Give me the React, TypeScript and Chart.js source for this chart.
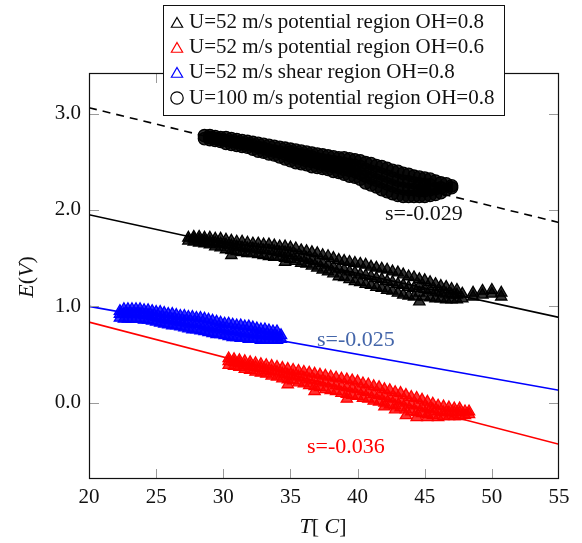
import { useEffect, useRef } from "react";
import { Chart, registerables } from "chart.js";

Chart.register(...registerables);

// ---- tick labels / ranges ----
const xTicks = [20, 25, 30, 35, 40, 45, 50, 55];
const yTicks = [0, 1, 2, 3];

// ---- legend labels ----
const seriesLabels = [
  "U=52 m/s potential region OH=0.8",
  "U=52 m/s potential region OH=0.6",
  "U=52 m/s shear region OH=0.8",
  "U=100 m/s potential region OH=0.8",
];

// ---- measured points: each row is [T, E, E, ...] (readings at that temperature) ----
const pot52oh08: number[][] = [
  [27.4, 1.68, 1.71], [27.8, 1.67, 1.70, 1.72], [28.2, 1.66, 1.69, 1.72], [28.6, 1.65, 1.68, 1.71],
  [29.0, 1.64, 1.67, 1.71], [29.4, 1.62, 1.66, 1.70], [29.8, 1.61, 1.65, 1.70], [30.2, 1.59, 1.64, 1.69],
  [30.6, 1.53, 1.58, 1.63, 1.68], [31.0, 1.57, 1.62, 1.67], [31.4, 1.56, 1.61, 1.67], [31.8, 1.55, 1.60, 1.66],
  [32.2, 1.55, 1.60, 1.65], [32.6, 1.54, 1.59, 1.65], [33.0, 1.53, 1.58, 1.64], [33.4, 1.52, 1.58, 1.64],
  [33.8, 1.51, 1.57, 1.63], [34.2, 1.51, 1.56, 1.62], [34.6, 1.46, 1.50, 1.56, 1.62], [35.0, 1.49, 1.55, 1.61],
  [35.4, 1.47, 1.53, 1.60], [35.8, 1.45, 1.51, 1.58], [36.2, 1.44, 1.50, 1.57], [36.6, 1.42, 1.48, 1.56],
  [37.0, 1.40, 1.47, 1.55], [37.4, 1.38, 1.45, 1.53], [37.8, 1.36, 1.43, 1.52], [38.2, 1.34, 1.41, 1.50],
  [38.6, 1.31, 1.39, 1.48], [39.0, 1.30, 1.38, 1.47], [39.4, 1.28, 1.36, 1.46], [39.8, 1.26, 1.35, 1.45],
  [40.2, 1.25, 1.33, 1.44], [40.6, 1.23, 1.32, 1.43], [41.0, 1.22, 1.31, 1.41], [41.4, 1.20, 1.29, 1.40],
  [41.8, 1.19, 1.28, 1.39], [42.2, 1.17, 1.26, 1.38], [42.6, 1.16, 1.25, 1.36], [43.0, 1.14, 1.23, 1.35],
  [43.4, 1.12, 1.22, 1.33], [43.8, 1.11, 1.20, 1.31], [44.2, 1.10, 1.19, 1.30], [44.6, 1.05, 1.14, 1.21, 1.28],
  [45.0, 1.10, 1.18, 1.27], [45.4, 1.09, 1.17, 1.25], [45.8, 1.08, 1.15, 1.23], [46.2, 1.08, 1.14, 1.21],
  [46.6, 1.07, 1.13, 1.20], [47.0, 1.07, 1.12, 1.18], [47.4, 1.07, 1.12, 1.17], [47.8, 1.08, 1.13],
  [48.6, 1.10, 1.14], [49.3, 1.12, 1.16], [50.0, 1.13, 1.17], [50.7, 1.10, 1.14],
];

const pot52oh06: number[][] = [
  [30.4, 0.39, 0.43, 0.46], [30.8, 0.38, 0.42, 0.45], [31.2, 0.37, 0.41, 0.44], [31.6, 0.35, 0.39, 0.43],
  [32.0, 0.34, 0.38, 0.42], [32.4, 0.32, 0.37, 0.41], [32.8, 0.31, 0.36, 0.40], [33.2, 0.30, 0.34, 0.39],
  [33.6, 0.28, 0.33, 0.38], [34.0, 0.27, 0.32, 0.37], [34.4, 0.25, 0.30, 0.36], [34.8, 0.19, 0.24, 0.29, 0.35],
  [35.2, 0.23, 0.28, 0.34], [35.6, 0.21, 0.27, 0.33], [36.0, 0.20, 0.26, 0.32], [36.4, 0.18, 0.24, 0.31],
  [36.8, 0.12, 0.17, 0.23, 0.30], [37.2, 0.16, 0.22, 0.29], [37.6, 0.14, 0.21, 0.28], [38.0, 0.13, 0.20, 0.27],
  [38.4, 0.12, 0.18, 0.26], [38.8, 0.10, 0.17, 0.25], [39.2, 0.04, 0.09, 0.16, 0.24], [39.6, 0.08, 0.15, 0.23],
  [40.0, 0.07, 0.14, 0.22], [40.4, 0.05, 0.12, 0.20], [40.8, 0.04, 0.11, 0.19], [41.2, 0.02, 0.09, 0.17],
  [41.6, 0.01, 0.08, 0.16], [42.0, -0.04, 0.00, 0.07, 0.14], [42.4, -0.02, 0.05, 0.13], [42.8, -0.07, -0.03, 0.04, 0.11],
  [43.2, -0.05, 0.02, 0.10], [43.6, -0.13, -0.07, 0.00, 0.08], [44.0, -0.09, -0.02, 0.06], [44.4, -0.15, -0.10, -0.03, 0.05],
  [44.8, -0.11, -0.05, 0.03], [45.2, -0.15, -0.12, -0.06, 0.01], [45.6, -0.13, -0.07, -0.01], [46.0, -0.15, -0.09, -0.03],
  [46.4, -0.14, -0.10, -0.04], [46.8, -0.14, -0.10, -0.05], [47.2, -0.14, -0.10, -0.06], [47.6, -0.14, -0.10, -0.06],
  [48.0, -0.13, -0.09], [48.3, -0.12, -0.09],
];

const shear52oh08: number[][] = [
  [22.3, 0.88, 0.92, 0.95], [22.6, 0.87, 0.92, 0.97], [22.9, 0.87, 0.92, 0.97], [23.2, 0.87, 0.92, 0.97],
  [23.5, 0.87, 0.92, 0.97], [23.8, 0.87, 0.92, 0.97], [24.1, 0.86, 0.91, 0.96], [24.4, 0.86, 0.91, 0.96],
  [24.7, 0.85, 0.90, 0.95], [25.0, 0.84, 0.89, 0.94], [25.3, 0.83, 0.88, 0.94], [25.6, 0.82, 0.87, 0.93],
  [25.9, 0.81, 0.86, 0.92], [26.2, 0.80, 0.86, 0.92], [26.5, 0.80, 0.85, 0.91], [26.8, 0.79, 0.84, 0.90],
  [27.1, 0.78, 0.84, 0.90], [27.4, 0.77, 0.83, 0.89], [27.7, 0.76, 0.82, 0.89], [28.0, 0.76, 0.82, 0.88],
  [28.3, 0.75, 0.81, 0.88], [28.6, 0.74, 0.80, 0.87], [28.9, 0.73, 0.79, 0.86], [29.2, 0.72, 0.78, 0.85],
  [29.5, 0.71, 0.77, 0.84], [29.8, 0.71, 0.77, 0.83], [30.1, 0.70, 0.76, 0.82], [30.4, 0.69, 0.75, 0.82],
  [30.7, 0.68, 0.74, 0.81], [31.0, 0.68, 0.74, 0.80], [31.3, 0.67, 0.73, 0.80], [31.6, 0.67, 0.72, 0.79],
  [31.9, 0.66, 0.72, 0.79], [32.2, 0.66, 0.71, 0.78], [32.5, 0.66, 0.71, 0.77], [32.8, 0.65, 0.70, 0.76],
  [33.1, 0.65, 0.70, 0.76], [33.4, 0.65, 0.69, 0.75], [33.7, 0.65, 0.69, 0.74], [34.0, 0.65, 0.69, 0.74],
  [34.3, 0.66, 0.70],
];

const pot100oh08: number[][] = [
  [28.6, 2.74, 2.77], [29.0, 2.73, 2.75, 2.77], [29.4, 2.72, 2.74, 2.76], [29.8, 2.71, 2.73, 2.75],
  [30.2, 2.69, 2.72, 2.75], [30.6, 2.68, 2.71, 2.74], [31.0, 2.67, 2.70, 2.73], [31.4, 2.66, 2.69, 2.72],
  [31.8, 2.65, 2.68, 2.71], [32.2, 2.63, 2.67, 2.70], [32.6, 2.61, 2.65, 2.69], [33.0, 2.60, 2.64, 2.68],
  [33.4, 2.58, 2.62, 2.67], [33.8, 2.57, 2.61, 2.66], [34.2, 2.55, 2.60, 2.65], [34.6, 2.53, 2.58, 2.64],
  [35.0, 2.51, 2.56, 2.60, 2.63], [35.4, 2.49, 2.54, 2.58, 2.62], [35.8, 2.48, 2.53, 2.57, 2.61], [36.2, 2.47, 2.51, 2.56, 2.60],
  [36.6, 2.45, 2.50, 2.55, 2.59], [37.0, 2.44, 2.49, 2.53, 2.58], [37.4, 2.43, 2.47, 2.52, 2.57], [37.8, 2.42, 2.46, 2.51, 2.56],
  [38.2, 2.40, 2.45, 2.50, 2.55], [38.6, 2.39, 2.44, 2.49, 2.54], [39.0, 2.37, 2.42, 2.48, 2.54], [39.4, 2.35, 2.41, 2.47, 2.53],
  [39.8, 2.34, 2.40, 2.46, 2.52], [40.2, 2.32, 2.38, 2.45, 2.51], [40.6, 2.28, 2.35, 2.42, 2.49], [41.0, 2.26, 2.33, 2.40, 2.48],
  [41.4, 2.24, 2.31, 2.39, 2.46], [41.8, 2.21, 2.29, 2.37, 2.45], [42.2, 2.19, 2.27, 2.35, 2.43], [42.6, 2.17, 2.25, 2.33, 2.41],
  [43.0, 2.15, 2.23, 2.31, 2.40], [43.4, 2.14, 2.22, 2.30, 2.38], [43.8, 2.14, 2.21, 2.29, 2.37], [44.2, 2.14, 2.21, 2.28, 2.35],
  [44.6, 2.14, 2.20, 2.27, 2.34], [45.0, 2.14, 2.20, 2.26, 2.33], [45.4, 2.15, 2.21, 2.26, 2.32], [45.8, 2.16, 2.22, 2.30],
  [46.2, 2.18, 2.23, 2.28], [46.6, 2.21, 2.27], [47.0, 2.23, 2.25],
];

// ---- fitted lines (end values at T=20 and T=55) ----
const fitT = [20, 55];
const fitPot52oh08 = [1.95, 0.886];
const fitPot52oh06 = [0.837, -0.43];
const fitShear52oh08 = [1.0, 0.13];
const fitPot100oh08 = [3.06, 1.87];

// ---- slope annotations ----
const slopeTexts = ["s=-0.029", "s=-0.025", "s=-0.036"];
const slopeAnchors: [number, number][] = [[42.04, 1.96], [36.98, 0.65], [36.23, -0.46]];
const slopeColors = ["#111111", "#4466aa", "#ff0000"];

const SERIF = "'Liberation Serif', 'Times New Roman', serif";
const BLACK = "#000000";
const RED = "#ff0000";
const BLUE = "#0000ff";
const TRI_R = 6.5;
const CIRC_R = 6.2;

const rowsToPts = (rows: number[][]) => rows.flatMap(([t, ...es]) => es.map((e) => ({ x: t, y: e })));
const toLine = (ys: number[]) => fitT.map((x, i) => ({ x, y: ys[i] }));

function drawMarker(ctx: CanvasRenderingContext2D, style: string, x: number, y: number, r: number) {
  ctx.beginPath();
  if (style === "triangle") {
    let rad = 0;
    ctx.moveTo(x + Math.sin(rad) * r, y - Math.cos(rad) * r);
    rad += (2 * Math.PI) / 3;
    ctx.lineTo(x + Math.sin(rad) * r, y - Math.cos(rad) * r);
    rad += (2 * Math.PI) / 3;
    ctx.lineTo(x + Math.sin(rad) * r, y - Math.cos(rad) * r);
    ctx.closePath();
  } else {
    ctx.arc(x, y, r, 0, Math.PI * 2);
  }
  ctx.stroke();
}

function drawMixed(
  ctx: CanvasRenderingContext2D,
  parts: { t: string; it: boolean }[],
  size: number,
  cx: number,
  by: number
) {
  const widths = parts.map((p) => {
    ctx.font = `${p.it ? "italic " : ""}${size}px ${SERIF}`;
    return ctx.measureText(p.t).width;
  });
  const total = widths.reduce((a, b) => a + b, 0);
  let x = cx - total / 2;
  parts.forEach((p, i) => {
    ctx.font = `${p.it ? "italic " : ""}${size}px ${SERIF}`;
    ctx.fillText(p.t, x, by);
    x += widths[i];
  });
}

const decorPlugin = {
  id: "decor",
  afterDatasetsDraw(chart: any) {
    const { ctx, chartArea: a, scales } = chart;
    ctx.save();
    ctx.strokeStyle = "#9a9a9a";
    ctx.lineWidth = 1;
    xTicks.forEach((v) => {
      if (v === 20 || v === 55) return;
      const px = Math.round(scales.x.getPixelForValue(v)) + 0.5;
      ctx.beginPath();
      ctx.moveTo(px, a.bottom);
      ctx.lineTo(px, a.bottom - 10);
      ctx.moveTo(px, a.top);
      ctx.lineTo(px, a.top + 10);
      ctx.stroke();
    });
    yTicks.forEach((v) => {
      const py = Math.round(scales.y.getPixelForValue(v)) + 0.5;
      ctx.beginPath();
      ctx.moveTo(a.left, py);
      ctx.lineTo(a.left + 10, py);
      ctx.moveTo(a.right, py);
      ctx.lineTo(a.right - 10, py);
      ctx.stroke();
    });
    ctx.strokeStyle = "#111111";
    ctx.lineWidth = 1.2;
    ctx.strokeRect(a.left + 0.5, a.top + 0.5, a.right - a.left - 1, a.bottom - a.top - 1);
    ctx.restore();
  },
  afterDraw(chart: any) {
    const { ctx, scales } = chart;
    ctx.save();
    ctx.textBaseline = "middle";
    ctx.textAlign = "left";
    ctx.font = `22px ${SERIF}`;
    slopeTexts.forEach((t, i) => {
      ctx.fillStyle = slopeColors[i];
      ctx.fillText(t, scales.x.getPixelForValue(slopeAnchors[i][0]), scales.y.getPixelForValue(slopeAnchors[i][1]));
    });
    ctx.fillStyle = "#111111";
    ctx.textBaseline = "alphabetic";
    drawMixed(ctx, [{ t: "T", it: true }, { t: "[ ", it: false }, { t: "C", it: true }, { t: "]", it: false }], 22, 323, 533);
    ctx.save();
    ctx.translate(33, 277);
    ctx.rotate(-Math.PI / 2);
    drawMixed(ctx, [{ t: "E", it: true }, { t: "(", it: false }, { t: "V", it: true }, { t: ")", it: false }], 22, 0, 0);
    ctx.restore();

    const bx = 163.5, by = 5.5, bw = 341, bh = 110;
    ctx.fillStyle = "#ffffff";
    ctx.fillRect(bx, by, bw, bh);
    ctx.strokeStyle = "#111111";
    ctx.lineWidth = 1;
    ctx.strokeRect(bx, by, bw, bh);
    const rows = [28, 53, 78, 104];
    const colors = [BLACK, RED, BLUE, BLACK];
    const styles = ["triangle", "triangle", "triangle", "circle"];
    ctx.font = `21px ${SERIF}`;
    ctx.textBaseline = "alphabetic";
    rows.forEach((ry, i) => {
      ctx.strokeStyle = colors[i];
      ctx.lineWidth = 1.2;
      if (styles[i] === "triangle") drawMarker(ctx, "triangle", 177, ry - 4, TRI_R);
      else drawMarker(ctx, "circle", 177, ry - 6, CIRC_R);
      ctx.fillStyle = "#111111";
      ctx.fillText(seriesLabels[i], 189, ry);
    });
    ctx.restore();
  },
};

export default function App() {
  const ref = useRef<HTMLCanvasElement | null>(null);

  useEffect(() => {
    document.body.style.margin = "0";
    const canvas = ref.current!;
    const scatterBase = { showLine: false, pointBorderWidth: 1.3, order: 1 };
    const lineBase = { showLine: true, pointRadius: 0, borderWidth: 1.6, order: 2, fill: false };
    const chart = new Chart(canvas, {
      type: "scatter",
      data: {
        datasets: [
          { ...lineBase, label: "fit100", data: toLine(fitPot100oh08), borderColor: BLACK, borderDash: [8, 6] },
          { ...lineBase, label: "fit52a", data: toLine(fitPot52oh08), borderColor: BLACK },
          { ...lineBase, label: "fit52s", data: toLine(fitShear52oh08), borderColor: BLUE },
          { ...lineBase, label: "fit52b", data: toLine(fitPot52oh06), borderColor: RED },
          { ...scatterBase, label: seriesLabels[0], data: rowsToPts(pot52oh08), pointStyle: "triangle", pointRadius: TRI_R, borderColor: BLACK, pointBorderColor: BLACK, pointBackgroundColor: "rgba(0,0,0,0.8)" },
          { ...scatterBase, label: seriesLabels[1], data: rowsToPts(pot52oh06), pointStyle: "triangle", pointRadius: TRI_R, borderColor: RED, pointBorderColor: RED, pointBackgroundColor: "rgba(255,0,0,0.8)" },
          { ...scatterBase, label: seriesLabels[2], data: rowsToPts(shear52oh08), pointStyle: "triangle", pointRadius: TRI_R, borderColor: BLUE, pointBorderColor: BLUE, pointBackgroundColor: "rgba(0,0,255,0.8)" },
          { ...scatterBase, label: seriesLabels[3], data: rowsToPts(pot100oh08), pointStyle: "circle", pointRadius: CIRC_R, borderColor: BLACK, pointBorderColor: BLACK, pointBackgroundColor: "rgba(0,0,0,0.8)" },
        ] as any,
      },
      options: {
        animation: false,
        responsive: false,
        devicePixelRatio: 1,
        layout: { padding: { top: 73, right: 23, left: 0, bottom: 0 } },
        plugins: { legend: { display: false }, tooltip: { enabled: false } },
        elements: { point: { hoverRadius: 0 } },
        scales: {
          x: {
            type: "linear",
            min: 20,
            max: 55,
            afterBuildTicks: (s: any) => {
              s.ticks = xTicks.map((v) => ({ value: v }));
            },
            afterFit: (s: any) => {
              s.height = 64;
            },
            grid: { display: false, drawTicks: false },
            border: { display: false },
            ticks: { font: { family: SERIF, size: 21 }, color: "#111111", padding: 6, maxRotation: 0, autoSkip: false },
          },
          y: {
            type: "linear",
            min: -0.79,
            max: 3.42,
            afterBuildTicks: (s: any) => {
              s.ticks = yTicks.map((v) => ({ value: v }));
            },
            afterFit: (s: any) => {
              s.width = 89;
            },
            grid: { display: false, drawTicks: false },
            border: { display: false },
            ticks: {
              font: { family: SERIF, size: 21 },
              color: "#111111",
              padding: 8,
              callback: (v: any) => Number(v).toFixed(1),
            },
          },
        },
      } as any,
      plugins: [decorPlugin],
    });
    return () => chart.destroy();
  }, []);

  return (
    <div style={{ position: "fixed", left: 0, top: 0, width: 582, height: 543, background: "#ffffff" }}>
      <canvas ref={ref} width={582} height={543} style={{ width: 582, height: 543, display: "block" }} />
    </div>
  );
}
